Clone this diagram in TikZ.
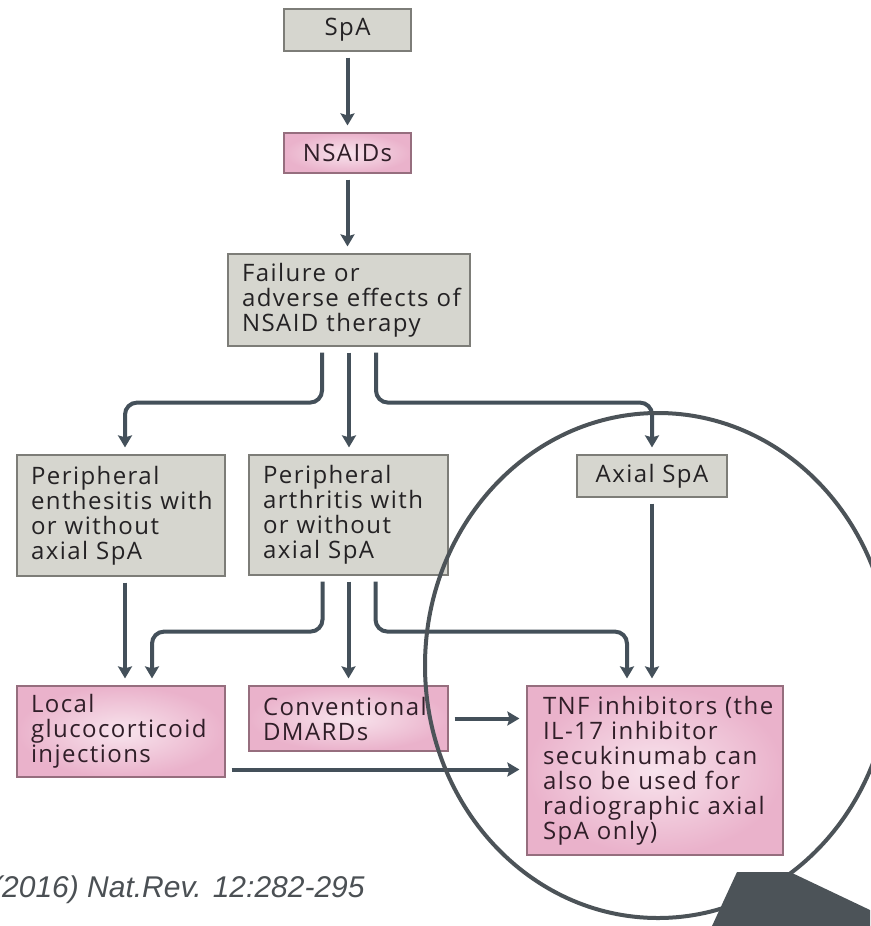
\documentclass[tikz,border=0pt]{standalone}
\usepackage{fontspec}
\setmainfont{Open Sans}[LetterSpace=6]
\newfontfamily\citefont{Liberation Sans}
\usetikzlibrary{arrows.meta}
\hyphenpenalty=10000
\exhyphenpenalty=10000
\definecolor{boxgray}{RGB}{214,214,207}
\definecolor{edgegray}{RGB}{125,125,120}
\definecolor{pinkin}{RGB}{248,228,237}
\definecolor{pinkout}{RGB}{234,178,203}
\definecolor{edgepink}{RGB}{150,110,126}
\definecolor{linec}{RGB}{68,80,90}
\definecolor{ringc}{RGB}{76,83,88}
\definecolor{textc}{RGB}{36,34,36}
\definecolor{pinktext}{RGB}{48,30,40}
\definecolor{citec}{RGB}{75,80,84}

\begin{document}
\begin{tikzpicture}[x=1pt,y=-1pt,
    box/.style={draw=edgegray,line width=1.2pt,fill=boxgray,text=textc,
        font=\fontsize{24}{25}\selectfont,inner xsep=14pt,inner ysep=0pt,align=left},
    drug/.style={box,draw=edgepink,text=pinktext,shade,inner color=pinkin,outer color=pinkout},
    arr/.style={draw=linec,line width=4pt,rounded corners=12pt,
        -{Stealth[length=12pt,width=14pt,inset=2pt]},shorten <=6pt,shorten >=7pt}]
    \path[use as bounding box,fill=white] (0,0) rectangle (870,926);
    %% first steps
    \node[box,align=center,minimum width=127pt,minimum height=42pt] (spa) at (347.5,30) {SpA};
    \node[drug,align=center,minimum width=127pt,minimum height=40pt] (nsaid) at (347.5,153) {NSAIDs};
    \node[box,text width=214pt,minimum height=92pt] (fail) at (349,300) {Failure or\\adverse~effects~of\\NSAID therapy};
    %% disease forms
    \node[box,text width=180pt,minimum height=121pt] (enth) at (121,515.5) {Peripheral\\enthesitis~with\\or without\\axial SpA};
    \node[box,text width=171pt,minimum height=120pt] (arth) at (348.5,515) {Peripheral\\arthritis~with\\or without\\axial SpA};
    \node[box,align=center,minimum width=150pt,minimum height=42pt] (axial) at (652,476) {Axial SpA};
    %% treatments
    \node[drug,text width=180pt,minimum height=91pt] (local) at (121,731.5) {Local\\glucocorticoid\\injections};
    \node[drug,text width=171pt,minimum height=65pt] (dmard) at (348.5,718.5) {Conventional\\DMARDs};
    \node[drug,text width=224pt,inner xsep=16pt,minimum height=169pt] (tnf) at (655,770.5) {TNF~inhibitors~(the\\IL-17 inhibitor\\secukinumab~can\\also~be~used~for\\radiographic~axial\\SpA only)};
    %% arrows
    \draw[arr] (spa.south) -- (spa.south |- nsaid.north);
    \draw[arr] (nsaid.south) -- (nsaid.south |- fail.north);
    \draw[arr] ([xshift=-27pt]fail.south) -- ++(0,56) -| ([xshift=4pt]enth.north);
    \draw[arr] (fail.south) -- (fail.south |- arth.north);
    \draw[arr] ([xshift=27pt]fail.south) -- ++(0,56) -| (axial.north);
    \draw[arr] ([xshift=4pt]enth.south) -- ([xshift=4pt]local.north);
    \draw[arr] ([xshift=-26pt]arth.south) -- ++(0,56) -| ([xshift=31pt]local.north);
    \draw[arr] (arth.south) -- (dmard.north);
    \draw[arr] ([xshift=27pt]arth.south) -- ++(0,56) -| ([xshift=-28pt]tnf.north);
    \draw[arr] (axial.south) -- (axial.south |- tnf.north);
    \draw[arr] (dmard.east) -- (dmard.east -| tnf.west);
    \draw[arr] ([yshift=-38pt]local.east) -- ([yshift=-38pt]local.east -| tnf.west);
    %% magnifier
    \draw[ringc,line width=4pt] (658,665.5) ellipse [x radius=233pt, y radius=252.5pt];
    \fill[ringc] (737,872) -- (790,872) -- (870,910) -- (870,926) -- (712,926) -- cycle;
    %% source
    \node[font=\citefont\itshape\fontsize{30}{30}\selectfont,text=citec,anchor=base west,inner sep=0pt] (src) at (-8,897) {(2016) Nat.Rev. 12:282-295};
\end{tikzpicture}
\end{document}
